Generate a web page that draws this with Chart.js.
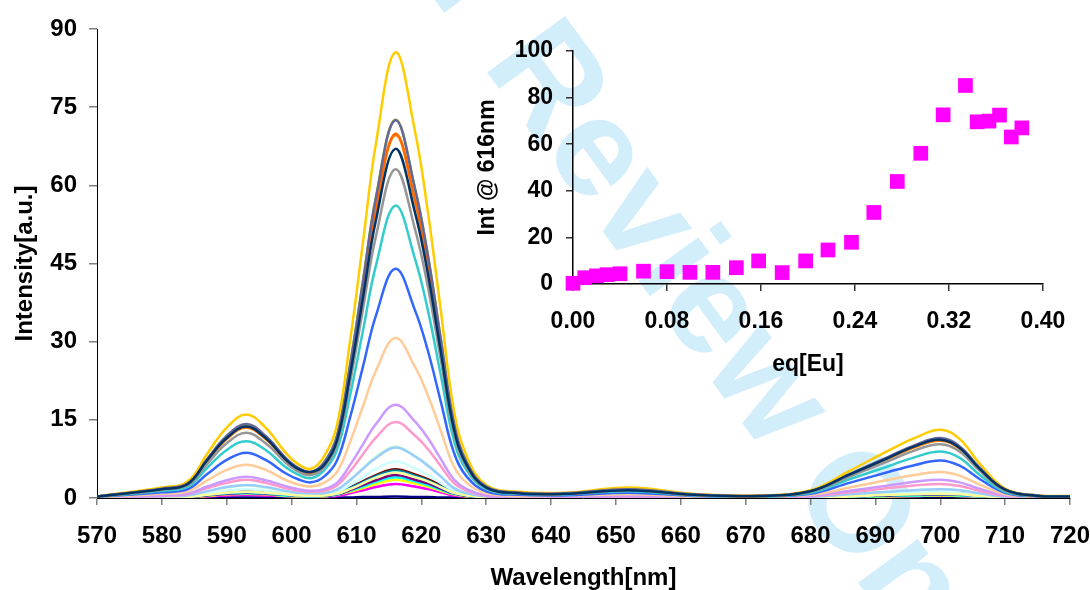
<!DOCTYPE html>
<html>
<head>
<meta charset="utf-8">
<script src="https://cdn.jsdelivr.net/npm/chart.js@4.4.0/dist/chart.umd.min.js"></script>
<style>
    html, body { margin: 0; padding: 0; background: #fff; overflow: hidden; }
    #wrap { position: relative; width: 1090px; height: 590px; }
    #mainChart { position: absolute; left: 0; top: 0; }
    #insetChart { position: absolute; left: 470px; top: 30px; }
</style>
</head>
<body>
<div id="wrap">
    <canvas id="mainChart" width="1090" height="590"></canvas>
    <canvas id="insetChart" width="600" height="360"></canvas>
</div>
<script>
// Emission spectra, one row per Eu addition
const wavelengths = [570, 580, 584, 587, 590, 593, 596, 599, 601, 603,
    605, 607, 609, 611, 613, 616, 619, 621, 623, 625, 627, 630, 635, 642, 652, 662, 672,
    680, 686, 692, 696, 700, 703, 706, 710, 715, 720];

const spectrumColors = [
    '#000080', '#FF00FF', '#FFFF00', '#00FFFF', '#800080', '#800000', '#008080',
    '#0000FF', '#00CCFF', '#CCFFFF', '#CCFFCC', '#FFFF99', '#99CCFF', '#FF99CC',
    '#CC99FF', '#FFCC99', '#3366FF', '#33CCCC', '#99CC00', '#FFCC00', '#FF9900',
    '#FF6600', '#666699', '#969696', '#003366'
];

const spectra = [
    [0,0,0,0.1,0.1,0.1,0.1,0.1,0,0, 0,0.1,0.1,0.2,0.2,0.3,0.2,0.2,0.1,0.1,0,0,0,0,0,0,0, 0,0,0.1,0.1,0.1,0.1,0.1,0,0,0],
    [0,0.1,0.1,0.3,0.5,0.6,0.5,0.4,0.3,0.2, 0.3,0.4,0.9,1.5,2.1,2.7,2.2,1.7,1.1,0.5,0.3,0.1,0,0,0.1,0,0, 0.1,0.2,0.3,0.4,0.5,0.4,0.2,0.1,0,0],
    [0,0.1,0.2,0.4,0.7,0.8,0.7,0.4,0.3,0.3, 0.3,0.6,1.2,1.9,2.7,3.5,2.8,2.2,1.4,0.7,0.3,0.1,0,0,0.1,0,0, 0.1,0.2,0.3,0.4,0.5,0.4,0.3,0.1,0,0],
    [0,0.1,0.2,0.5,0.8,0.9,0.8,0.5,0.4,0.3, 0.4,0.6,1.4,2.2,3.1,4.0,3.2,2.5,1.6,0.8,0.4,0.1,0.1,0,0.1,0,0, 0.1,0.2,0.4,0.5,0.6,0.5,0.3,0.1,0,0],
    [0,0.1,0.2,0.5,0.8,1.0,0.8,0.6,0.4,0.4, 0.4,0.7,1.5,2.5,3.4,4.4,3.5,2.8,1.8,0.9,0.4,0.1,0.1,0.1,0.1,0,0, 0.1,0.3,0.5,0.6,0.7,0.6,0.4,0.1,0,0],
    [0,0.2,0.3,0.7,1.1,1.3,1.1,0.7,0.5,0.5, 0.5,0.9,2.0,3.2,4.4,5.5,4.5,3.6,2.4,1.1,0.5,0.2,0.1,0.1,0.1,0.1,0, 0.1,0.4,0.6,0.8,0.9,0.8,0.5,0.1,0,0],
    [0,0.2,0.2,0.6,1.0,1.2,1.0,0.7,0.5,0.4, 0.5,0.9,1.9,3.0,4.2,5.3,4.3,3.4,2.2,1.1,0.5,0.2,0.1,0.1,0.1,0,0, 0.1,0.4,0.6,0.8,0.9,0.8,0.5,0.1,0,0],
    [0,0.2,0.2,0.6,1.0,1.2,1.0,0.7,0.5,0.4, 0.5,0.8,1.8,2.9,4.0,5.0,4.1,3.2,2.1,1.0,0.5,0.2,0.1,0.1,0.1,0,0, 0.1,0.3,0.6,0.7,0.8,0.7,0.4,0.1,0,0],
    [0,0.1,0.2,0.6,0.9,1.1,0.9,0.6,0.5,0.4, 0.5,0.8,1.8,2.9,4.0,5.0,4.1,3.2,2.1,1.0,0.5,0.2,0.1,0.1,0.1,0,0, 0.1,0.3,0.6,0.7,0.8,0.7,0.4,0.1,0,0],
    [0,0.2,0.3,0.9,1.4,1.7,1.4,0.9,0.7,0.6, 0.7,1.1,2.5,4.0,5.6,7.0,5.7,4.5,2.9,1.4,0.7,0.2,0.1,0.1,0.2,0.1,0, 0.1,0.4,0.8,1.0,1.1,0.9,0.6,0.2,0,0],
    [0,0.3,0.5,1.3,2.0,2.4,2.0,1.3,1.0,0.8, 0.9,1.6,3.5,5.7,7.9,9.9,8.1,6.4,4.2,2.0,0.9,0.3,0.1,0.1,0.2,0.1,0.1, 0.2,0.7,1.2,1.5,1.7,1.5,0.9,0.2,0.1,0.1],
    [0,0.1,0.2,0.6,1.0,1.2,1.0,0.7,0.5,0.4, 0.5,0.8,1.7,2.8,3.9,4.9,4.0,3.2,2.1,1.0,0.5,0.1,0.1,0.1,0.1,0,0, 0.1,0.3,0.6,0.7,0.8,0.7,0.4,0.1,0,0],
    [0.1,0.3,0.5,1.3,2.1,2.5,2.1,1.4,1.0,0.9, 0.9,1.6,3.4,5.6,7.7,9.7,8.0,6.2,4.1,1.9,0.9,0.3,0.1,0.1,0.2,0.1,0.1, 0.2,0.7,1.2,1.5,1.7,1.5,0.9,0.2,0.1,0.1],
    [0.1,0.4,0.7,1.9,2.9,3.5,2.9,1.9,1.4,1.2, 1.4,2.4,5.1,8.4,11.6,14.6,12.0,9.4,6.1,2.9,1.4,0.4,0.2,0.2,0.3,0.1,0.1, 0.3,1.1,1.9,2.4,2.7,2.3,1.4,0.4,0.1,0.1],
    [0.1,0.5,0.8,2.2,3.4,4.1,3.4,2.3,1.7,1.4, 1.7,2.9,6.3,10.3,14.2,17.9,14.7,11.5,7.5,3.6,1.7,0.5,0.3,0.2,0.4,0.2,0.1, 0.4,1.4,2.4,3.1,3.5,3.0,1.8,0.5,0.1,0.1],
    [0.1,0.8,1.3,3.4,5.4,6.4,5.4,3.5,2.6,2.2, 2.9,5.0,10.7,17.6,24.4,30.7,25.2,19.7,12.9,6.1,2.9,0.9,0.4,0.4,0.7,0.3,0.2, 0.6,2.0,3.5,4.4,5.0,4.3,2.6,0.7,0.2,0.2],
    [0.2,1.1,1.7,4.6,7.3,8.7,7.3,4.8,3.6,3.0, 4.1,7.2,15.4,25.2,35.0,44.0,36.1,28.3,18.5,8.8,4.1,1.3,0.6,0.5,1.0,0.4,0.3, 0.8,2.9,5.0,6.3,7.2,6.2,3.7,1.0,0.3,0.2],
    [0.2,1.4,2.2,5.8,9.2,10.9,9.2,6.0,4.5,3.8, 5.3,9.2,19.6,32.1,44.6,56.1,46.0,36.1,23.6,11.2,5.3,1.7,0.8,0.7,1.3,0.5,0.3, 1.0,3.6,6.1,7.8,8.9,7.7,4.5,1.2,0.4,0.3],
    [0.3,1.8,2.8,7.4,11.8,14.0,11.8,7.7,5.7,4.9, 6.8,11.9,25.4,41.6,57.7,72.6,59.5,46.7,30.5,14.5,6.8,2.2,1.0,0.9,1.7,0.7,0.4, 1.3,4.5,7.8,9.9,11.3,9.7,5.8,1.6,0.5,0.3],
    [0.3,2.0,3.2,8.5,13.5,16.0,13.5,8.8,6.5,5.6, 8.0,14.0,30.0,49.0,68.0,85.5,70.5,55.0,36.0,17.0,8.0,2.5,1.2,1.0,2.0,0.8,0.5, 1.5,5.2,9.1,11.5,13.1,11.3,6.7,1.8,0.5,0.4],
    [0.3,1.7,2.7,7.2,11.3,13.5,11.3,7.4,5.5,4.7, 6.5,11.4,24.4,39.9,55.3,69.6,57.1,44.8,29.2,13.9,6.5,2.1,1.0,0.8,1.6,0.6,0.4, 1.3,4.4,7.6,9.7,11.0,9.5,5.6,1.5,0.4,0.3],
    [0.3,1.7,2.7,7.2,11.4,13.6,11.4,7.5,5.6,4.8, 6.6,11.5,24.5,40.1,55.6,69.9,57.3,44.9,29.4,14.0,6.6,2.1,1.0,0.8,1.6,0.6,0.4, 1.3,4.4,7.7,9.8,11.1,9.5,5.7,1.6,0.4,0.3],
    [0.3,1.8,2.8,7.5,11.9,14.2,11.9,7.8,5.8,5.0, 6.8,11.9,25.4,41.5,57.6,72.5,59.5,46.6,30.5,14.5,6.8,2.2,1.0,0.9,1.7,0.7,0.4, 1.3,4.6,7.9,10.1,11.5,9.9,5.9,1.6,0.5,0.3],
    [0.3,1.6,2.5,6.6,10.5,12.5,10.5,6.9,5.1,4.4, 5.9,10.3,22.1,36.2,50.2,63.1,51.7,40.6,26.5,12.6,5.9,1.9,0.9,0.8,1.5,0.6,0.4, 1.2,4.1,7.1,9.1,10.3,8.9,5.3,1.4,0.4,0.3],
    [0.3,1.7,2.7,7.3,11.5,13.7,11.5,7.5,5.6,5.0, 6.3,11.0,23.5,38.4,53.3,67.0,54.9,43.1,28.1,13.4,6.3,2.0,0.9,0.8,1.5,0.6,0.4, 1.3,4.5,7.7,9.9,11.2,9.6,5.7,1.6,0.4,0.3]
];

// Inset: intensity at 616 nm vs equivalents of Eu
const eqEu = [0, 0.010, 0.020, 0.029, 0.040, 0.060, 0.080, 0.0995, 0.119, 0.139,
    0.158, 0.178, 0.198, 0.217, 0.237, 0.256, 0.276, 0.296, 0.315, 0.334,
    0.344, 0.354, 0.363, 0.373, 0.382];
const int616 = [0.3, 2.7, 3.5, 4.0, 4.4, 5.5, 5.3, 5.0, 5.0, 7.0,
    9.9, 4.9, 9.9, 14.6, 17.9, 30.7, 44.0, 56.1, 72.6, 85.2,
    69.6, 69.9, 72.5, 63.1, 67.0];

const intensityTicks = [0, 15, 30, 45, 60, 75, 90];
const wavelengthTicks = [570, 580, 590, 600, 610, 620, 630, 640, 650, 660, 670, 680, 690, 700, 710, 720];
const insetYTicks = [0, 20, 40, 60, 80, 100];
const insetXTicks = [0, 0.08, 0.16, 0.24, 0.32, 0.40];

const FONT = '"Liberation Sans", Arial, Helvetica, sans-serif';

function fixedTicks(list) {
    return function (scale) {
        scale.ticks = list.map(v => ({ value: v }));
    };
}

// light blue review stamp behind the plot
const watermarkPlugin = {
    id: 'watermark',
    beforeDraw(chart) {
        const ctx = chart.ctx;
        ctx.save();
        ctx.fillStyle = '#D3EEFB';
        ctx.font = 'bold 140px ' + FONT;
        ctx.textAlign = 'center';
        ctx.textBaseline = 'middle';
        ctx.translate(680, 272);
        ctx.rotate(54 * Math.PI / 180);
        ctx.fillText('For Review Only', 0, 0);
        ctx.restore();
    }
};

function axisFont(size) {
    return { family: FONT, size: size, weight: 'bold' };
}

const mainChart = new Chart(document.getElementById('mainChart'), {
    type: 'line',
    data: {
        datasets: spectra.map((row, i) => ({
            data: row.map((v, j) => ({ x: wavelengths[j], y: v })),
            borderColor: spectrumColors[i],
            borderWidth: 2.5,
            pointRadius: 0,
            fill: false,
            tension: 0.4,
            order: spectra.length - i
        }))
    },
    options: {
        responsive: false,
        animation: false,
        devicePixelRatio: 1,
        layout: { padding: { top: 29, right: 0, left: 0, bottom: 0 } },
        plugins: { legend: { display: false }, tooltip: { enabled: false } },
        scales: {
            x: {
                type: 'linear',
                min: 570,
                max: 720,
                afterBuildTicks: fixedTicks(wavelengthTicks),
                ticks: { color: '#000', font: axisFont(24), padding: 17, maxRotation: 0, autoSkip: false },
                grid: { drawOnChartArea: false, drawTicks: true, tickLength: 7, color: '#808080', lineWidth: 1.5 },
                border: { display: true, color: '#000', width: 1 },
                title: { display: true, text: 'Wavelength[nm]', color: '#000', font: { family: FONT, size: 24, weight: 'bold', lineHeight: 1 }, padding: 0 },
                afterFit(scale) { scale.height = 92; scale.paddingRight = 20; }
            },
            y: {
                min: 0,
                max: 90,
                afterBuildTicks: fixedTicks(intensityTicks),
                ticks: { color: '#000', font: axisFont(24), padding: 12 },
                grid: { drawOnChartArea: false, drawTicks: true, tickLength: 8, color: '#808080', lineWidth: 1.5 },
                border: { display: true, color: '#000', width: 1 },
                title: { display: true, text: 'Intensity[a.u.]', color: '#000', font: { family: FONT, size: 24, weight: 'bold', lineHeight: 1 }, padding: 13 },
                afterFit(scale) { scale.width = 97; }
            }
        }
    },
    plugins: [watermarkPlugin]
});

const insetChart = new Chart(document.getElementById('insetChart'), {
    type: 'scatter',
    data: {
        datasets: [{
            data: eqEu.map((x, i) => ({ x: x, y: int616[i] })),
            backgroundColor: '#FF00FF',
            borderWidth: 0,
            pointStyle: 'rect',
            pointRadius: 10.4,
            clip: false
        }]
    },
    options: {
        responsive: false,
        animation: false,
        devicePixelRatio: 1,
        layout: { padding: { top: 21, right: 0, left: 0, bottom: 0 } },
        plugins: { legend: { display: false }, tooltip: { enabled: false } },
        scales: {
            x: {
                type: 'linear',
                min: 0,
                max: 0.4,
                afterBuildTicks: fixedTicks(insetXTicks),
                ticks: { color: '#000', font: axisFont(23), padding: 17, maxRotation: 0, callback: v => v.toFixed(2) },
                grid: { drawOnChartArea: false, drawTicks: true, tickLength: 7, color: '#333', lineWidth: 1.5 },
                border: { display: true, color: '#000', width: 1.5 },
                title: { display: true, text: 'eq[Eu]', color: '#000', font: { family: FONT, size: 23, weight: 'bold', lineHeight: 1 }, padding: 13.5 },
                afterFit(scale) { scale.height = 106; scale.paddingRight = 27; }
            },
            y: {
                min: 0,
                max: 100,
                afterBuildTicks: fixedTicks(insetYTicks),
                ticks: { color: '#000', font: axisFont(23), padding: 13 },
                grid: { drawOnChartArea: false, drawTicks: true, tickLength: 7, color: '#333', lineWidth: 1.5 },
                border: { display: true, color: '#000', width: 1.5 },
                title: { display: true, text: 'Int @ 616nm', color: '#000', font: { family: FONT, size: 23, weight: 'bold', lineHeight: 1 }, padding: 6.5 },
                afterFit(scale) { scale.width = 103; scale.paddingTop = 0; scale.paddingBottom = 0; }
            }
        }
    }
});
</script>
</body>
</html>
